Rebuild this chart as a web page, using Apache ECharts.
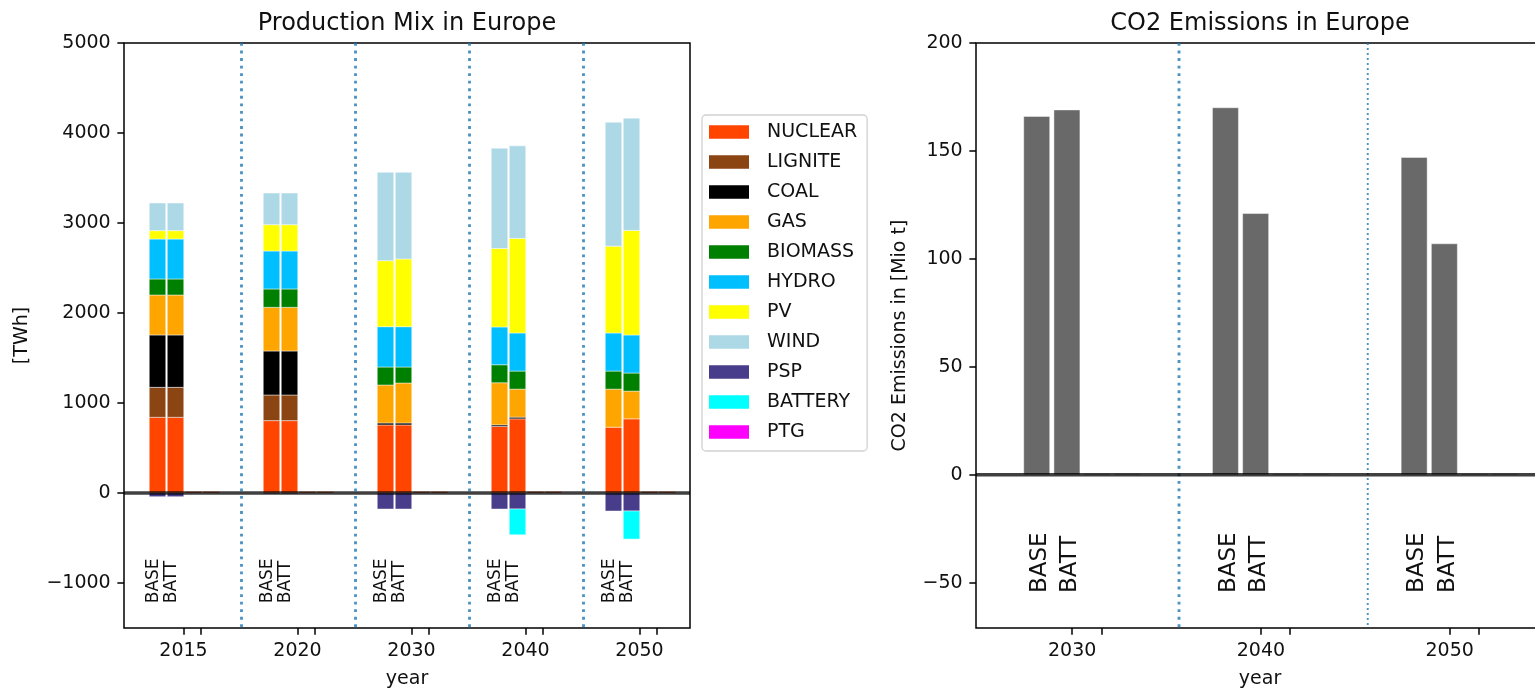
<!DOCTYPE html>
<html><head><meta charset="utf-8">
<script src="https://cdn.jsdelivr.net/npm/echarts@6/dist/echarts.min.js"></script>
<style>html,body{margin:0;padding:0;background:#fff}#c{width:1535px;height:691px}</style>
</head><body><div id="c"></div>
<script>
// ---------- data ----------
const yearsProd = ['2015', '2020', '2030', '2040', '2050'];
const yearsCO2 = ['2030', '2040', '2050'];
const scenarios = ['BASE', 'BATT', '', ''];   // four scenario slots per year (last two ~0)
const techNames = ['NUCLEAR', 'LIGNITE', 'COAL', 'GAS', 'BIOMASS', 'HYDRO', 'PV', 'WIND', 'PSP', 'BATTERY', 'PTG'];
const techColors = ['#ff4500', '#8b4513', '#000000', '#ffa500', '#008000', '#00bfff', '#ffff00', '#add8e6', '#483d8b', '#00ffff', '#ff00ff'];
// production [TWh]; per year: BASE, BATT, slot3, slot4
const NUCLEAR = [841, 841, 15, 15, 804, 804, 15, 15, 756, 756, 15, 15, 739, 824, 15, 15, 731, 824, 15, 15];
const LIGNITE = [333, 333, 0, 0, 285, 285, 0, 0, 0, 0, 0, 0, 0, 0, 0, 0, 0, 0, 0, 0];
const COAL    = [582, 582, 0, 0, 489, 489, 0, 0, 22, 22, 0, 0, 18, 19, 0, 0, 0, 0, 0, 0];
const GAS     = [444, 444, 0, 0, 485, 485, 0, 0, 422, 444, 0, 0, 468, 311, 0, 0, 423, 308, 0, 0];
const BIOMASS = [178, 178, 0, 0, 204, 204, 0, 0, 200, 178, 0, 0, 200, 201, 0, 0, 201, 201, 0, 0];
const HYDRO   = [444, 444, 0, 0, 422, 422, 0, 0, 448, 448, 0, 0, 420, 423, 0, 0, 423, 423, 0, 0];
const PV      = [93, 93, 0, 0, 292, 292, 0, 0, 733, 752, 0, 0, 872, 1051, 0, 0, 965, 1162, 0, 0];
const WIND    = [307, 307, 0, 0, 352, 352, 0, 0, 982, 963, 0, 0, 1114, 1028, 0, 0, 1377, 1247, 0, 0];
const PSP     = [-41, -41, 0, 0, -10, -10, 0, 0, -178, -178, 0, 0, -178, -178, 0, 0, -200, -200, 0, 0];
const BATTERY = [0, 0, 0, 0, 0, 0, 0, 0, 0, 0, 0, 0, 0, -286, 0, 0, 0, -312, 0, 0];
const PTG     = [0, 0, 0, 0, 0, 0, 0, 0, 0, 0, 0, 0, 0, 0, 0, 0, 0, 0, 0, 0];
// CO2 emissions [Mio t]; per year
const CO2_BASE = [166, 170, 147];
const CO2_BATT = [169, 121, 107];
const CO2_S3 = [0.4, 0.4, 0.4];
const CO2_S4 = [0.4, 0.4, 0.4];
const yTicksProd = [-1000, 0, 1000, 2000, 3000, 4000, 5000];
const yTicksCO2 = [-50, 0, 50, 100, 150, 200];

// ---------- layout / style ----------
const FONT = 'DejaVu Sans';
const L = {left: 124, top: 43, width: 566, height: 585, xMin: -0.5307, xMax: 4.4342,
  slot: [-0.2368, -0.0789, 0.0789, 0.2368], barW: 16.5, tickLab: -0.009, tickMinor: 0.14,
  txtDx: -0.035, txtY: -1225, txtSize: 17, yMin: -1500, yMax: 5000};
const R = {left: 976, top: 43, width: 568, height: 585, xMin: -0.5758, xMax: 2.434,
  slot: [-0.254, -0.094, 0.066, 0.226], barW: 26, tickLab: -0.066, tickMinor: 0.089,
  txtDx: 0.017, txtY: -54.8, txtSize: 23, yMin: -71, yMax: 200};

function barRenderer(w) {
  return function (params, api) {
    const x = api.value(0), b = api.value(1), t = api.value(2);
    if (b === t) return null;
    const p0 = api.coord([x, b]), p1 = api.coord([x, t]);
    return {type: 'rect',
      shape: {x: p0[0] - w / 2, y: Math.min(p0[1], p1[1]), width: w, height: Math.abs(p0[1] - p1[1])},
      style: {fill: api.visual('color'), stroke: 'rgba(255,255,255,0.75)', lineWidth: 0.6}};
  };
}
function hLine(params, api) {
  const cs = params.coordSys;
  const y = api.coord([api.value(0), api.value(1)])[1];
  return {type: 'line', shape: {x1: cs.x, y1: y, x2: cs.x + cs.width, y2: y},
    style: {stroke: 'rgba(0,0,0,0.75)', lineWidth: 3.5}};
}
function vLine(styles) {
  return function (params, api) {
    const cs = params.coordSys;
    const x = api.coord([api.value(0), api.value(1)])[0];
    return {type: 'line', shape: {x1: x, y1: cs.y, x2: x, y2: cs.y + cs.height},
      style: styles[params.dataIndex % styles.length]};
  };
}
function textRenderer(list, size) {
  return function (params, api) {
    const p = api.coord([api.value(0), api.value(1)]);
    return {type: 'text', x: p[0], y: p[1], rotation: Math.PI / 2,
      style: {text: list[params.dataIndex][2], fontSize: size, fontFamily: FONT, fill: '#111',
        align: 'left', textAlign: 'left', verticalAlign: 'middle', textVerticalAlign: 'middle'}};
  };
}
const minus = v => String(v).replace('-', '\u2212');

// ---------- series ----------
const series = [];
const techData = [NUCLEAR, LIGNITE, COAL, GAS, BIOMASS, HYDRO, PV, WIND, PSP, BATTERY, PTG];
const nSlots = yearsProd.length * scenarios.length;
const posAcc = new Array(nSlots).fill(0), negAcc = new Array(nSlots).fill(0);
techNames.forEach((name, k) => {
  const data = techData[k].map((v, i) => {
    const g = Math.floor(i / scenarios.length), s = i % scenarios.length;
    const x = g + L.slot[s];
    let b, t;
    if (v >= 0) { b = posAcc[i]; t = b + v; posAcc[i] = t; }
    else { b = negAcc[i]; t = b + v; negAcc[i] = t; }
    return [x, b, t];
  });
  series.push({type: 'custom', name, xAxisIndex: 0, yAxisIndex: 0, z: 2,
    itemStyle: {color: techColors[k]}, renderItem: barRenderer(L.barW),
    encode: {x: 0, y: [1, 2]}, data, silent: true});
});

const dotThick = {stroke: 'rgba(31,119,180,0.8)', lineWidth: 2.85, lineDash: [2.85, 4.7]};
const dotThin = {stroke: 'rgba(31,119,180,0.8)', lineWidth: 1.9, lineDash: [1.9, 3.1]};
series.push({type: 'custom', xAxisIndex: 0, yAxisIndex: 0, z: 3, silent: true,
  renderItem: vLine([dotThick]), encode: {x: 0, y: 1},
  data: yearsProd.slice(1).map((y, g) => [g + 0.5, 0])});
series.push({type: 'custom', xAxisIndex: 0, yAxisIndex: 0, z: 5, silent: true,
  renderItem: hLine, encode: {x: 0, y: 1}, data: [[0, 0]]});

const lblL = [];
yearsProd.forEach((y, g) => [0, 1].forEach(s => lblL.push([g + L.slot[s] + L.txtDx, L.txtY, scenarios[s]])));
series.push({type: 'custom', xAxisIndex: 0, yAxisIndex: 0, z: 6, silent: true,
  renderItem: textRenderer(lblL, L.txtSize), encode: {x: 0, y: 1}, data: lblL.map(d => [d[0], d[1]])});

// right chart
const co2Vals = [CO2_BASE, CO2_BATT, CO2_S3, CO2_S4];
const co2Data = [];
yearsCO2.forEach((y, g) => co2Vals.forEach((arr, s) => co2Data.push([g + R.slot[s], 0, arr[g]])));
series.push({type: 'custom', name: 'CO2', xAxisIndex: 1, yAxisIndex: 1, z: 2, silent: true,
  itemStyle: {color: '#696969'}, renderItem: barRenderer(R.barW), encode: {x: 0, y: [1, 2]}, data: co2Data});
series.push({type: 'custom', xAxisIndex: 1, yAxisIndex: 1, z: 3, silent: true,
  renderItem: vLine([dotThick, dotThin]), encode: {x: 0, y: 1},
  data: yearsCO2.slice(1).map((y, g) => [g + 0.5, 0])});
series.push({type: 'custom', xAxisIndex: 1, yAxisIndex: 1, z: 5, silent: true,
  renderItem: hLine, encode: {x: 0, y: 1}, data: [[0, 0]]});
const lblR = [];
yearsCO2.forEach((y, g) => [0, 1].forEach(s => lblR.push([g + R.slot[s] + R.txtDx, R.txtY, scenarios[s]])));
series.push({type: 'custom', xAxisIndex: 1, yAxisIndex: 1, z: 6, silent: true,
  renderItem: textRenderer(lblR, R.txtSize), encode: {x: 0, y: 1}, data: lblR.map(d => [d[0], d[1]])});

// ---------- axes ----------
const tickStyle = {length: 6.65, lineStyle: {color: '#000', width: 1.5}};
const labStyle = {fontSize: 19, color: '#111', fontFamily: FONT, margin: 13.3};
const nameStyle = {fontSize: 19, color: '#111', fontFamily: FONT};
function xAxisFor(P, years, idx) {
  const labVals = years.map((y, g) => g + P.tickLab);
  const tickVals = [];
  years.forEach((y, g) => { tickVals.push(g + P.tickLab, g + P.tickMinor); });
  return {type: 'value', gridIndex: idx, min: P.xMin, max: P.xMax, position: 'bottom',
    name: 'year', nameLocation: 'middle', nameGap: 42, nameTextStyle: nameStyle, nameMoveOverlap: false,
    axisLine: {show: false, onZero: false}, splitLine: {show: false},
    axisTick: Object.assign({show: true, customValues: tickVals}, tickStyle),
    axisLabel: Object.assign({customValues: labVals, formatter: v => years[Math.round(v - P.tickLab)]}, labStyle)};
}
function yAxisFor(P, ticks, name, gap, idx) {
  return {type: 'value', gridIndex: idx, min: P.yMin, max: P.yMax, position: 'left',
    name, nameLocation: 'middle', nameGap: gap, nameTextStyle: nameStyle, nameMoveOverlap: false,
    axisLine: {show: false, onZero: false}, splitLine: {show: false},
    axisTick: Object.assign({show: true, customValues: ticks}, tickStyle),
    axisLabel: Object.assign({customValues: ticks, formatter: minus}, labStyle)};
}

const gridStyle = {show: true, borderColor: '#000', borderWidth: 1.5, backgroundColor: 'transparent',
  containLabel: false, outerBoundsMode: 'none'};

const option = {
  animation: false,
  backgroundColor: '#fff',
  textStyle: {fontFamily: FONT},
  grid: [
    Object.assign({left: L.left, top: L.top, width: L.width, height: L.height}, gridStyle),
    Object.assign({left: R.left, top: R.top, width: R.width, height: R.height}, gridStyle)
  ],
  xAxis: [xAxisFor(L, yearsProd, 0), xAxisFor(R, yearsCO2, 1)],
  yAxis: [yAxisFor(L, yTicksProd, '[TWh]', 92, 0), yAxisFor(R, yTicksCO2, 'CO2 Emissions in [Mio t]', 66, 1)],
  legend: {
    data: techNames, orient: 'vertical', left: 702, top: 115, icon: 'rect', selectedMode: false,
    itemWidth: 40, itemHeight: 13.3, itemGap: 10, padding: [7, 10, 9, 7],
    borderColor: 'rgba(204,204,204,0.9)', borderWidth: 1.3, borderRadius: 4, backgroundColor: 'rgba(255,255,255,0.8)',
    textStyle: {fontSize: 19, lineHeight: 20, color: '#111', fontFamily: FONT, padding: [0, 0, 0, 13]}
  },
  graphic: [
    {type: 'text', x: L.left + L.width / 2, y: 24, silent: true,
      style: {text: 'Production Mix in Europe', fontSize: 24, fontFamily: FONT, fill: '#111', align: 'center', verticalAlign: 'middle'}},
    {type: 'text', x: R.left + R.width / 2, y: 24, silent: true,
      style: {text: 'CO2 Emissions in Europe', fontSize: 24, fontFamily: FONT, fill: '#111', align: 'center', verticalAlign: 'middle'}}
  ],
  series
};
const chart = echarts.init(document.getElementById('c'), null, {renderer: 'canvas'});
chart.setOption(option);
</script>
</body></html>
